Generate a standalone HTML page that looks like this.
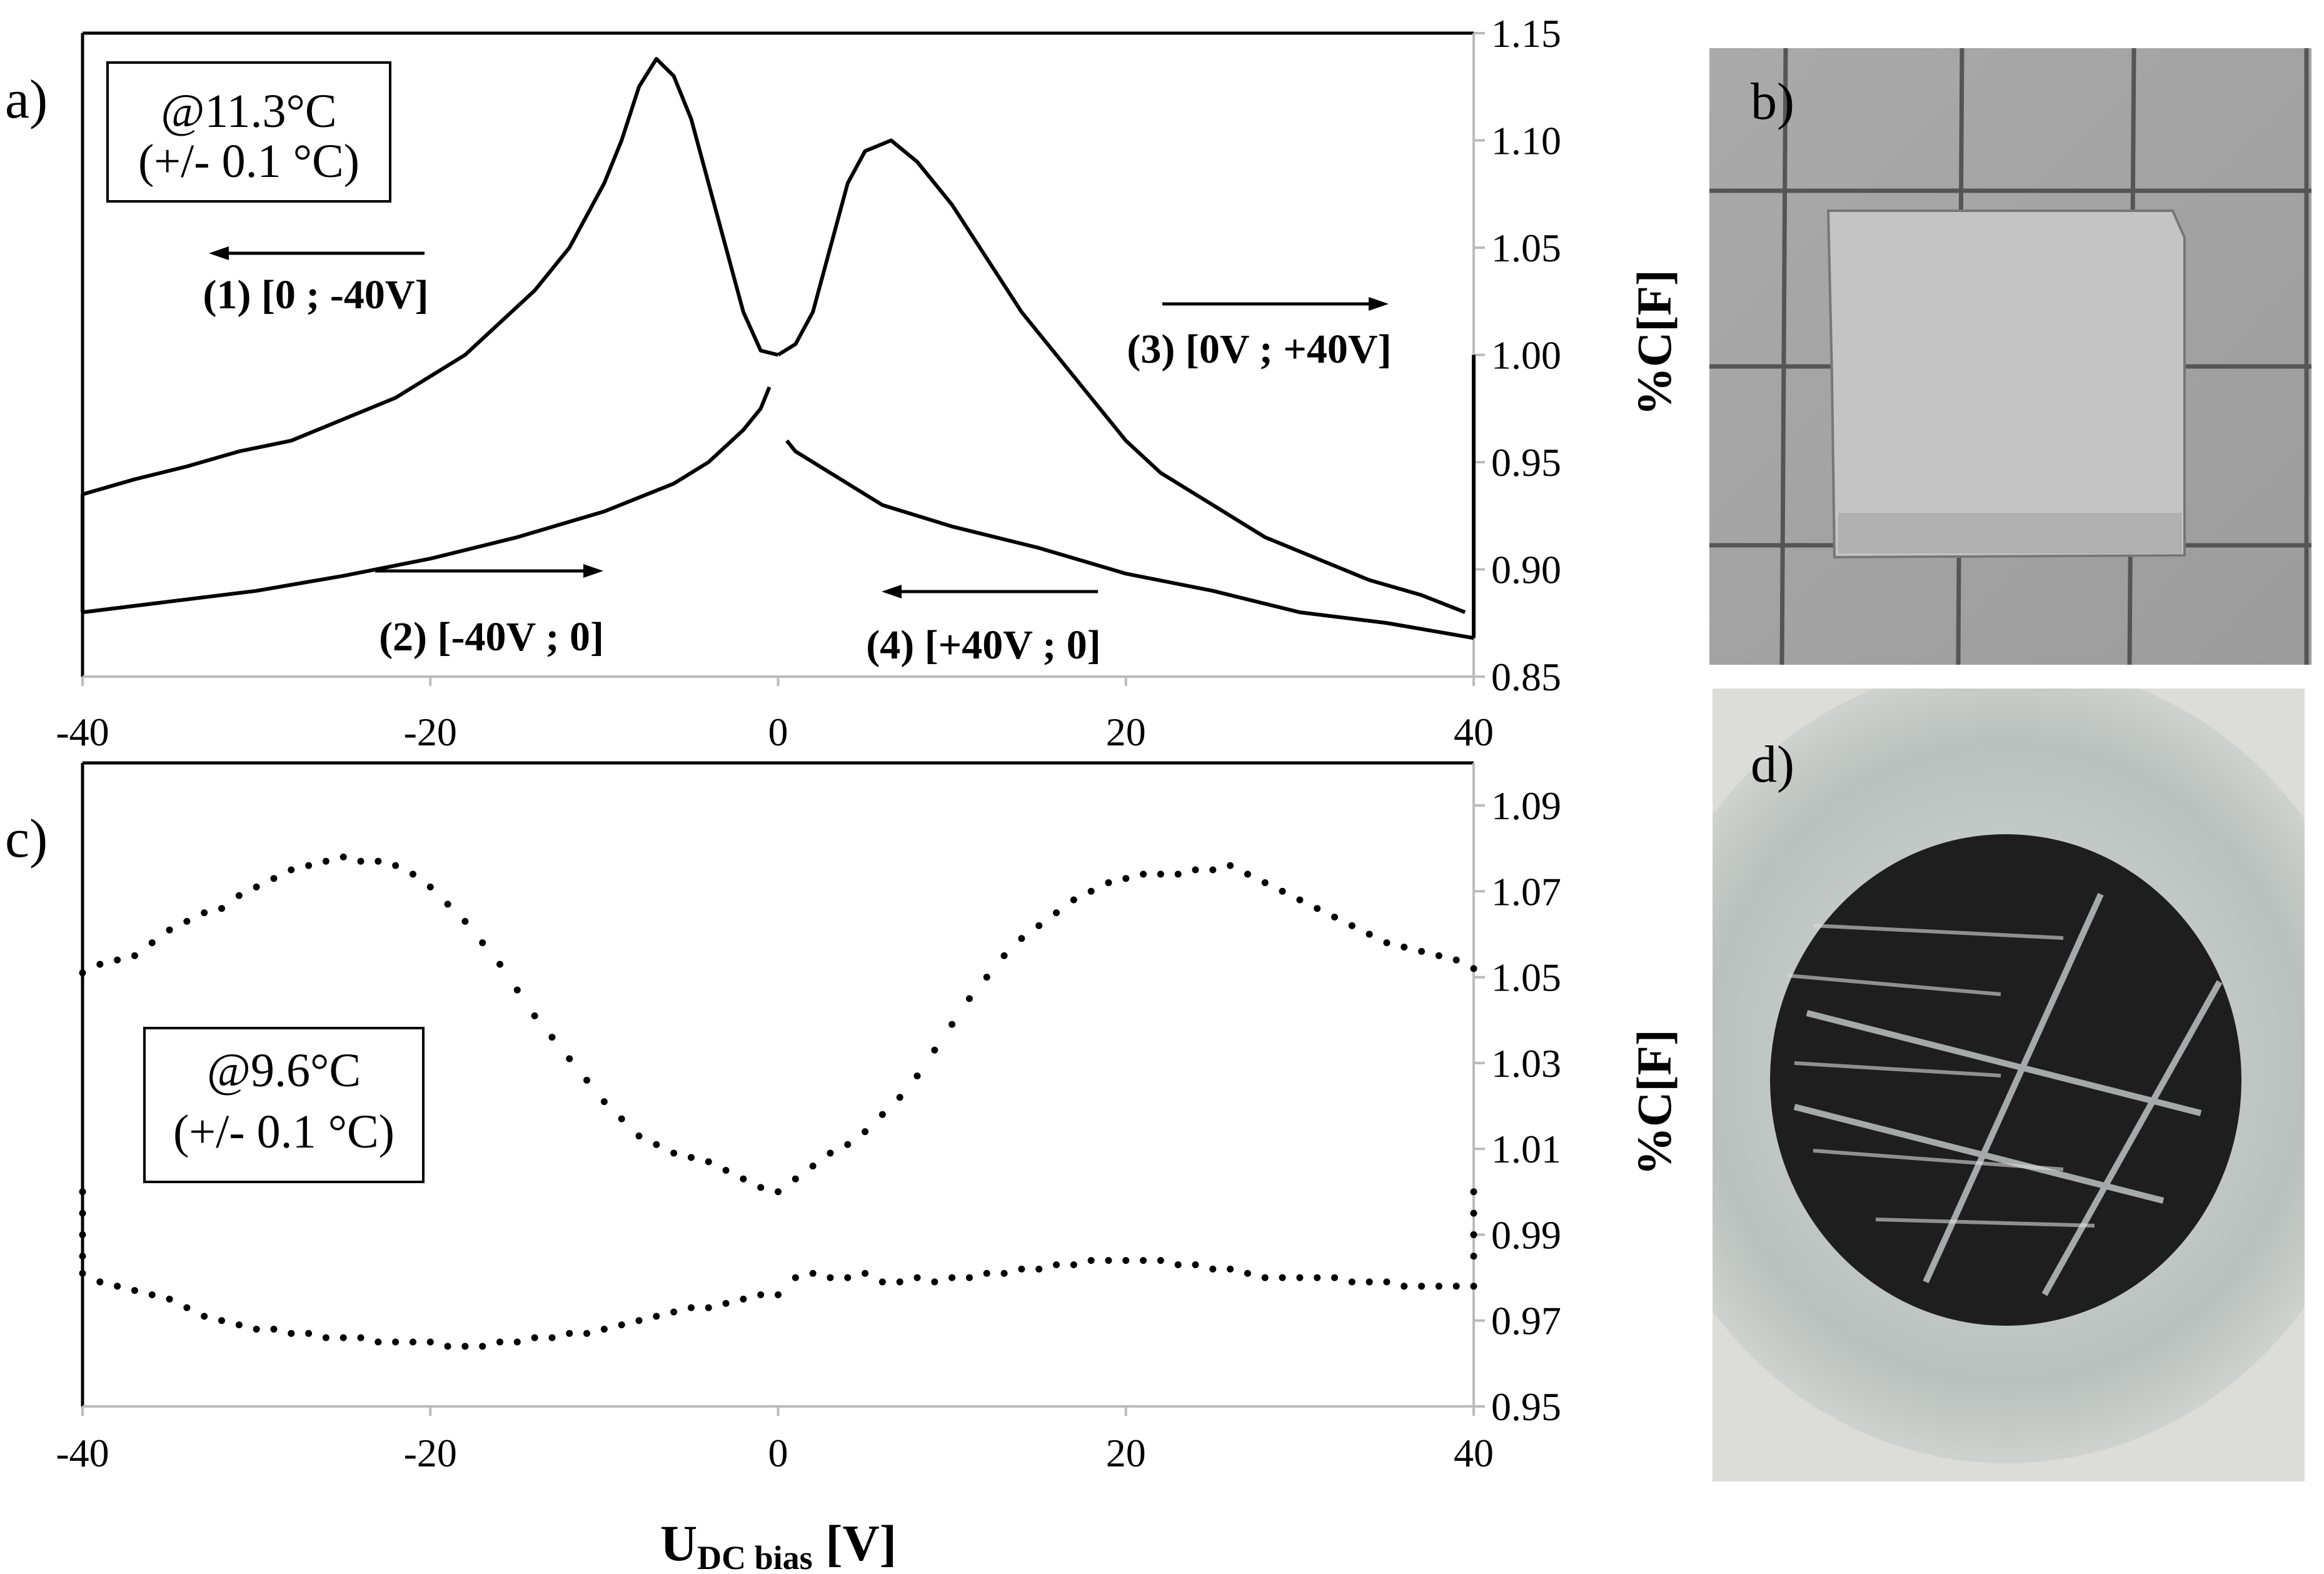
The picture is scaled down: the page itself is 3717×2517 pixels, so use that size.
<!DOCTYPE html>
<html><head><meta charset="utf-8"><style>
html,body{margin:0;padding:0;background:#fff}
svg{display:block}
text{font-family:"Liberation Serif",serif;fill:#000}
</style></head><body>
<svg id="fig" width="3717" height="2517" viewBox="0 0 3717 2517">
<defs>
<radialGradient id="ringG" cx="50%" cy="50%" r="50%">
<stop offset="0.55" stop-color="#c3cac7"/><stop offset="0.8" stop-color="#b9c0bd"/><stop offset="1" stop-color="#cfd2cf"/>
</radialGradient>
<linearGradient id="bG" x1="0" y1="0" x2="1" y2="1"><stop offset="0" stop-color="#aaaaaa"/><stop offset="1" stop-color="#9c9c9c"/></linearGradient>
<clipPath id="dClip"><rect x="2739" y="1101" width="947" height="1268"/></clipPath>
</defs>
<g id="panelA"></g>
<g id="panelC"></g>
<!-- photo b -->
<g>
<rect x="2734" y="77" width="963" height="986" fill="url(#bG)"/>
<g stroke="#555" stroke-width="7">
<line x1="2856" y1="77" x2="2850" y2="1063"/><line x1="3138" y1="77" x2="3132" y2="1063"/><line x1="3413" y1="77" x2="3406" y2="1063"/><line x1="3689" y1="77" x2="3689" y2="1063"/>
<line x1="2734" y1="305" x2="3697" y2="305"/><line x1="2734" y1="586" x2="3697" y2="586"/><line x1="2734" y1="872" x2="3697" y2="872"/>
</g>
<path d="M2924 337 L3475 337 L3494 380 L3494 888 L2934 891 L2930 600 Z" fill="#c4c4c4" stroke="#777" stroke-width="4"/>
<rect x="2940" y="820" width="550" height="65" fill="#b0b0b0"/>
<text x="2800" y="190" font-size="84">b)</text>
</g>
<!-- photo d -->
<g clip-path="url(#dClip)">
<rect x="2739" y="1101" width="947" height="1268" fill="#dcdcd8"/>
<ellipse cx="3210" cy="1700" rx="600" ry="640" fill="url(#ringG)"/>
<ellipse cx="3208" cy="1727" rx="377" ry="393" fill="#1e1e1e"/>
<g stroke="#c8cccc" stroke-width="10" opacity="0.8">
<line x1="2890" y1="1620" x2="3520" y2="1780"/><line x1="2870" y1="1770" x2="3460" y2="1920"/>
<line x1="3080" y1="2050" x2="3360" y2="1430"/><line x1="3270" y1="2070" x2="3550" y2="1570"/>
</g>
<g stroke="#ddd" stroke-width="6" opacity="0.6">
<line x1="2900" y1="1480" x2="3300" y2="1500"/><line x1="2860" y1="1560" x2="3200" y2="1590"/><line x1="2870" y1="1700" x2="3200" y2="1720"/><line x1="2900" y1="1840" x2="3300" y2="1870"/><line x1="3000" y1="1950" x2="3350" y2="1960"/>
</g>
<text x="2800" y="1250" font-size="84">d)</text>
</g>
</svg>
<script>
// ---------- Panel a data ----------
const aC1V=[0,-1,-2,-3,-4,-5,-6,-7,-8,-9,-10,-12,-14,-16,-18,-20,-22,-25,-28,-31,-34,-37,-40];
const aC1Y=[1.000,1.002,1.020,1.050,1.080,1.110,1.130,1.138,1.125,1.100,1.080,1.050,1.030,1.015,1.000,0.990,0.980,0.970,0.960,0.955,0.948,0.942,0.935];
const aC2V=[-40,-35,-30,-25,-20,-15,-10,-6,-4,-2,-1,-0.5];
const aC2Y=[0.880,0.885,0.890,0.897,0.905,0.915,0.927,0.940,0.950,0.965,0.975,0.985];
const aC3V=[0,1,2,3,4,5,6.5,8,10,12,14,16,18,20,22,25,28,31,34,37,39.5];
const aC3Y=[1.000,1.005,1.020,1.050,1.080,1.095,1.100,1.090,1.070,1.045,1.020,1.000,0.980,0.960,0.945,0.930,0.915,0.905,0.895,0.888,0.880];
const aC4V=[40,35,30,25,20,15,10,6,3,1,0.5];
const aC4Y=[0.868,0.875,0.880,0.890,0.898,0.910,0.920,0.930,0.945,0.955,0.960];
const aLeftEdge=[0.935,0.880];
const aRightEdge=[0.868,1.000];
const aYTicks=["0.85","0.90","0.95","1.00","1.05","1.10","1.15"];
const xTicks=["-40","-20","0","20","40"];
// ---------- Panel c data ----------
const cUpper=[1.051,1.053,1.054,1.055,1.058,1.061,1.063,1.065,1.066,1.069,1.071,1.073,1.075,1.076,1.077,1.078,1.077,1.077,1.076,1.074,1.071,1.067,1.063,1.058,1.053,1.047,1.041,1.036,1.031,1.026,1.021,1.017,1.013,1.011,1.009,1.008,1.007,1.005,1.003,1.001,1.000,1.003,1.006,1.009,1.011,1.014,1.018,1.022,1.027,1.033,1.039,1.045,1.050,1.055,1.059,1.062,1.065,1.068,1.070,1.072,1.073,1.074,1.074,1.074,1.075,1.075,1.076,1.074,1.072,1.070,1.068,1.066,1.064,1.062,1.060,1.058,1.057,1.056,1.055,1.054,1.052];
const cLowerL=[0.981,0.979,0.978,0.977,0.976,0.975,0.973,0.971,0.970,0.969,0.968,0.968,0.967,0.967,0.966,0.966,0.966,0.965,0.965,0.965,0.965,0.964,0.964,0.964,0.965,0.965,0.966,0.966,0.967,0.967,0.968,0.969,0.970,0.971,0.972,0.973,0.973,0.974,0.975,0.976,0.976];
const cLowerR=[0.980,0.981,0.980,0.980,0.981,0.979,0.979,0.980,0.979,0.980,0.980,0.981,0.981,0.982,0.982,0.983,0.983,0.984,0.984,0.984,0.984,0.984,0.983,0.983,0.982,0.982,0.981,0.980,0.980,0.980,0.980,0.980,0.979,0.979,0.979,0.978,0.978,0.978,0.978,0.978];
const cLeftEdge=[1.000,0.995,0.990,0.985];
const cRightEdge=[0.985,0.990,0.995,1.000];
const cYTicks=["0.95","0.97","0.99","1.01","1.03","1.05","1.07","1.09"];

const NS="http://www.w3.org/2000/svg";
function mk(parent,tag,attrs,txt){const e=document.createElementNS(NS,tag);for(const k in attrs)e.setAttribute(k,attrs[k]);if(txt!==undefined)e.textContent=txt;parent.appendChild(e);return e;}
const X0=132,X1=2357;
function xs(v){return X0+(v+40)/80*(X1-X0);}

// Panel A
const A=document.getElementById('panelA');
const aTop=53,aBot=1082,aMin=0.85,aMax=1.15;
function ya(v){return aBot-(v-aMin)/(aMax-aMin)*(aBot-aTop);}
let e;
e=mk(A,'line',{x1:X0,y1:aTop,x2:X1,y2:aTop,stroke:'#000','stroke-width':5});

e=mk(A,'line',{x1:X0,y1:aTop,x2:X0,y2:aBot,stroke:'#000','stroke-width':5});

e=mk(A,'line',{x1:X0,y1:aBot,x2:X1,y2:aBot,stroke:'#bbb','stroke-width':4});

e=mk(A,'line',{x1:X1,y1:aTop,x2:X1,y2:aBot,stroke:'#bbb','stroke-width':4});

aYTicks.forEach(t=>{const y=ya(parseFloat(t));
 mk(A,'line',{x1:X1,y1:y,x2:X1+18,y2:y,stroke:'#bbb','stroke-width':4});
 e=mk(A,'text',{x:2385,y:y+22,'font-size':64},t);
 });
xTicks.forEach(t=>{const x=xs(parseFloat(t));
 mk(A,'line',{x1:x,y1:aBot,x2:x,y2:aBot+15,stroke:'#bbb','stroke-width':4});
 e=mk(A,'text',{x:x,y:1192,'font-size':64,'text-anchor':'middle'},t);
 });
function poly(P,V,Y,yf,name){const pts=V.map((v,i)=>xs(v)+','+yf(Y[i])).join(' ');
 const el=mk(P,'polyline',{points:pts,fill:'none',stroke:'#000','stroke-width':6,'stroke-linejoin':'round'});
 }
poly(A,aC1V,aC1Y,ya,'sweep-1-line');
poly(A,aC2V,aC2Y,ya,'sweep-2-line');
poly(A,aC3V,aC3Y,ya,'sweep-3-line');
poly(A,aC4V,aC4Y,ya,'sweep-4-line');
poly(A,[-40,-40],aLeftEdge,ya,'left-edge-line');
poly(A,[40,40],aRightEdge,ya,'right-edge-line');
e=mk(A,'text',{x:8,y:188,'font-size':88},'a)');

e=mk(A,'rect',{x:172,y:100,width:452,height:222,fill:'#fff',stroke:'#000','stroke-width':4});

e=mk(A,'text',{x:398,y:203,'font-size':76,'text-anchor':'middle'},'@11.3°C');

e=mk(A,'text',{x:398,y:283,'font-size':76,'text-anchor':'middle'},'(+/- 0.1 °C)');

function arrow(P,x1,x2,y,name){const dir=Math.sign(x2-x1);
 const g=mk(P,'g',{});
 mk(g,'line',{x1:x1,y1:y,x2:x2-dir*25,y2:y,stroke:'#000','stroke-width':5});
 mk(g,'polygon',{points:`${x2},${y} ${x2-dir*32},${y-11} ${x2-dir*32},${y+11}`,fill:'#000'});}
function lab(P,x,y,t,name){const el=mk(P,'text',{x:x,y:y,'font-size':66,'font-weight':'bold','text-anchor':'middle'},t);
 }
arrow(A,679,334,405,'arrow-1');lab(A,505,493,'(1) [0 ; -40V]','annotation-1');
arrow(A,600,965,913,'arrow-2');lab(A,786,1040,'(2) [-40V ; 0]','annotation-2');
arrow(A,1859,2221,486,'arrow-3');lab(A,2014,580,'(3) [0V ; +40V]','annotation-3');
arrow(A,1756,1410,946,'arrow-4');lab(A,1573,1053,'(4) [+40V ; 0]','annotation-4');
e=mk(A,'text',{x:2672,y:548,'font-size':78,'font-weight':'bold','text-anchor':'middle',transform:'rotate(-90 2672 548)'},'%C[F]');


// Panel C
const C=document.getElementById('panelC');
const cTop=1220,cBot=2249;
const cT109=1288;
function yc(v){return cBot-(v-0.95)/(1.09-0.95)*(cBot-cT109);}
e=mk(C,'line',{x1:X0,y1:cTop,x2:X1,y2:cTop,stroke:'#000','stroke-width':5});

e=mk(C,'line',{x1:X0,y1:cTop,x2:X0,y2:cBot,stroke:'#000','stroke-width':5});

e=mk(C,'line',{x1:X0,y1:cBot,x2:X1,y2:cBot,stroke:'#bbb','stroke-width':4});

e=mk(C,'line',{x1:X1,y1:cTop,x2:X1,y2:cBot,stroke:'#bbb','stroke-width':4});

cYTicks.forEach(t=>{const y=yc(parseFloat(t));
 mk(C,'line',{x1:X1,y1:y,x2:X1+18,y2:y,stroke:'#bbb','stroke-width':4});
 e=mk(C,'text',{x:2385,y:y+22,'font-size':64},t);
 });
xTicks.forEach(t=>{const x=xs(parseFloat(t));
 mk(C,'line',{x1:x,y1:cBot,x2:x,y2:cBot+15,stroke:'#bbb','stroke-width':4});
 e=mk(C,'text',{x:x,y:2345,'font-size':64,'text-anchor':'middle'},t);
 });
function dots(vals,v0,name){const g=mk(C,'g',{});
 vals.forEach((val,i)=>{const d=mk(g,'circle',{cx:xs(v0+i),cy:yc(val),r:5.5,fill:'#000'});
 });}
dots(cUpper,-40,'upper-dotted-series');
dots(cLowerL,-40,'lower-dotted-series-negative');
dots(cLowerR,1,'lower-dotted-series-positive');
function edgeDots(vals,v,name){const g=mk(C,'g',{});
 vals.forEach(val=>{const d=mk(g,'circle',{cx:xs(v),cy:yc(val),r:5.5,fill:'#000'});
 });}
edgeDots(cLeftEdge,-40,'left-edge-dots');
edgeDots(cRightEdge,40,'right-edge-dots');
e=mk(C,'text',{x:8,y:1370,'font-size':88},'c)');

e=mk(C,'rect',{x:231,y:1644,width:446,height:246,fill:'#fff',stroke:'#000','stroke-width':4});

e=mk(C,'text',{x:454,y:1737,'font-size':76,'text-anchor':'middle'},'@9.6°C');

e=mk(C,'text',{x:454,y:1835,'font-size':76,'text-anchor':'middle'},'(+/- 0.1 °C)');

e=mk(C,'text',{x:2672,y:1763,'font-size':78,'font-weight':'bold','text-anchor':'middle',transform:'rotate(-90 2672 1763)'},'%C[F]');

const xt=mk(C,'text',{x:1245,y:2495,'font-size':82,'font-weight':'bold','text-anchor':'middle'});


mk(xt,'tspan',{},'U');mk(xt,'tspan',{'font-size':54,dy:14},'DC bias');mk(xt,'tspan',{dy:-14},' [V]');
</script>
</body></html>
